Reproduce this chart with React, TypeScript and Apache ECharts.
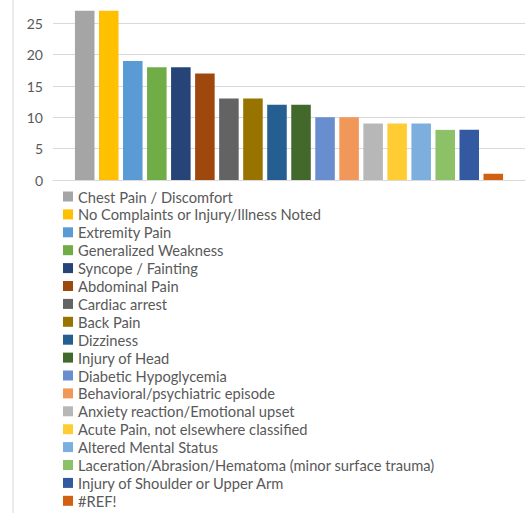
import React, { useEffect, useRef } from "react";
import * as echarts from "echarts";

const categories = [
  "Chest Pain / Discomfort",
  "No Complaints or Injury/Illness Noted",
  "Extremity Pain",
  "Generalized Weakness",
  "Syncope / Fainting",
  "Abdominal Pain",
  "Cardiac arrest",
  "Back Pain",
  "Dizziness",
  "Injury of Head",
  "Diabetic Hypoglycemia",
  "Behavioral/psychiatric episode",
  "Anxiety reaction/Emotional upset",
  "Acute Pain, not elsewhere classified",
  "Altered Mental Status",
  "Laceration/Abrasion/Hematoma (minor surface trauma)",
  "Injury of Shoulder or Upper Arm",
  "#REF!",
];

const values = [27, 27, 19, 18, 18, 17, 13, 13, 12, 12, 10, 10, 9, 9, 9, 8, 8, 1];

const colors = [
  "#A5A5A5", "#FFC000", "#5B9BD5", "#70AD47", "#264478", "#9E480E",
  "#636363", "#997300", "#255E91", "#43682B", "#698ED0", "#F1975A",
  "#B7B7B7", "#FFCD33", "#7CAFDD", "#8CC168", "#335AA1", "#D26012",
];

const yTicks = { min: 0, max: 30, interval: 5 };

export default function App() {
  const ref = useRef<HTMLDivElement>(null);
  useEffect(() => {
    if (!ref.current) return;
    const chart = echarts.init(ref.current, undefined, { renderer: "svg" });
    const font = "Lato, 'Noto Sans', sans-serif";
    chart.setOption({
      animation: false,
      textStyle: { fontFamily: font },
      grid: { left: 53, right: 2, top: -8, bottom: 333, containLabel: false, outerBoundsMode: "none" },
      xAxis: {
        type: "category",
        data: [""],
        axisLine: { lineStyle: { color: "#D9D9D9" } },
        axisTick: { show: false },
        axisLabel: { show: false },
      },
      yAxis: {
        type: "value",
        min: yTicks.min,
        max: yTicks.max,
        interval: yTicks.interval,
        axisLine: { show: false },
        axisTick: { show: false },
        axisLabel: { color: "#595959", fontSize: 14, margin: 10, fontFamily: font, showMaxLabel: false },
        splitLine: { lineStyle: { color: "#D9D9D9" } },
      },
      legend: {
        orient: "vertical",
        left: 63,
        top: 189,
        height: 340,
        padding: 0,
        icon: "rect",
        itemWidth: 10,
        itemHeight: 10,
        itemGap: 2.9,
        itemTextGap: 5,
        textStyle: { color: "#595959", fontSize: 14.7, fontFamily: font },
        data: categories,
      },
      graphic: [
        {
          type: "line",
          shape: { x1: 13, y1: 0, x2: 13, y2: 513 },
          style: { stroke: "#D9D9D9", lineWidth: 1 },
        },
      ],
      series: categories.map((name, i) => ({
        name,
        type: "bar",
        data: [values[i]],
        itemStyle: { color: colors[i] },
        barGap: "23%",
        barCategoryGap: "9.3%",
      })),
    });
    return () => chart.dispose();
  }, []);
  return (
    <div
      ref={ref}
      style={{ position: "fixed", left: 0, top: 0, width: 527, height: 513, background: "#fff" }}
    />
  );
}
